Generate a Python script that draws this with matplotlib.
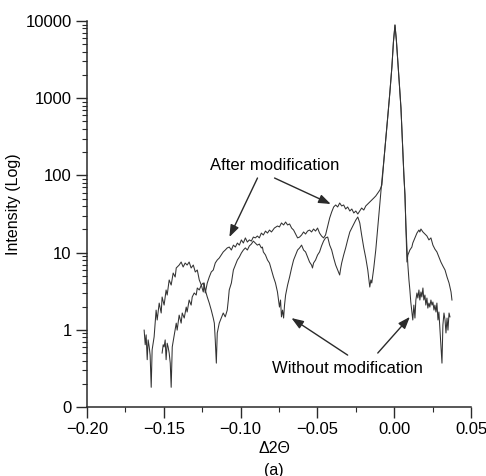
import matplotlib
matplotlib.use('Agg')
import matplotlib.pyplot as plt
from matplotlib.ticker import LogLocator, MultipleLocator, NullFormatter

plt.rcParams['font.family'] = ['Liberation Sans', 'DejaVu Sans']

# left (fringe) part of the "after modification" scan
after_left_x = [
    -0.1628, -0.1621, -0.1615, -0.1608, -0.1602, -0.1595, -0.1589, -0.1582, -0.1576, -0.1563,
    -0.1550, -0.1543, -0.1530, -0.1517, -0.1511, -0.1498, -0.1485, -0.1478, -0.1465, -0.1452,
    -0.1439, -0.1426, -0.1419, -0.1400, -0.1387, -0.1374, -0.1361, -0.1348, -0.1335, -0.1322,
    -0.1308, -0.1295, -0.1282, -0.1269, -0.1256, -0.1243, -0.1237, -0.1230, -0.1217, -0.1204,
    -0.1191, -0.1178, -0.1165, -0.1152, -0.1139, -0.1126, -0.1113, -0.1100, -0.1087, -0.1074,
    -0.1060, -0.1047, -0.1034, -0.1021, -0.1008, -0.0995, -0.0982, -0.0969, -0.0956, -0.0943,
    -0.0930, -0.0917, -0.0904, -0.0891, -0.0878, -0.0865, -0.0852, -0.0838, -0.0825, -0.0812,
    -0.0799, -0.0780, -0.0760, -0.0747, -0.0734, -0.0720, -0.0707, -0.0694, -0.0681, -0.0668,
    -0.0655, -0.0642, -0.0629, -0.0616, -0.0603, -0.0590, -0.0577, -0.0564, -0.0551, -0.0538,
    -0.0525, -0.0512, -0.0499, -0.0486, -0.0473, -0.0460, -0.0447, -0.0433, -0.0420, -0.0407,
    -0.0394, -0.0381, -0.0368, -0.0355, -0.0342, -0.0329, -0.0316, -0.0303, -0.0289, -0.0276,
    -0.0263, -0.0250, -0.0237, -0.0224, -0.0212, -0.0198, -0.0185, -0.0172, -0.0159, -0.0146,
    -0.0133, -0.0120, -0.0106, -0.0093, -0.0080,
]
after_left_y = [
    0.99, 0.64, 0.86, 0.41, 0.74, 0.60, 0.47, 0.18, 0.55, 0.81,
    1.80, 1.34, 2.22, 1.65, 2.66, 2.09, 3.28, 2.82, 4.42, 3.80,
    5.44, 4.83, 6.32, 6.90, 7.55, 6.51, 7.33, 6.90, 7.55, 6.32,
    6.90, 5.61, 5.95, 4.42, 3.80, 3.09, 4.04, 3.00, 4.04, 4.83,
    5.61, 5.95, 7.33, 8.02, 8.51, 9.31, 10.2, 10.8, 11.5, 11.8,
    10.8, 12.5, 11.8, 13.3, 12.5, 14.6, 13.3, 15.5, 13.7, 14.6,
    14.1, 15.9, 15.5, 16.4, 15.5, 17.9, 16.9, 19.0, 17.9, 19.6,
    18.5, 20.8, 22.1, 21.5, 24.2, 22.8, 24.9, 22.8, 23.5, 20.8,
    19.6, 17.4, 15.5, 15.9, 16.9, 18.5, 17.4, 19.0, 19.6, 18.5,
    20.2, 19.0, 20.8, 17.9, 16.4, 15.5, 16.9, 22.1, 28.1, 33.6,
    39.0, 41.4, 39.0, 43.9, 40.2, 41.4, 36.7, 39.0, 34.6, 36.7,
    32.6, 34.6, 31.6, 34.6, 37.8, 35.6, 40.2, 42.6, 45.2, 48.0,
    50.9, 54.1, 59.2, 64.7, 75.1,
]

# substrate peak, shared by both scans
peak_x = [-0.0067, -0.0054, -0.0041, -0.0028, -0.0015, -0.0005, 0.0005, 0.0014,
          0.0024, 0.0034, 0.0044, 0.0053, 0.0063, 0.0070, 0.0076]
peak_y = [158, 305, 605, 1200, 2540, 5350, 8870, 5680,
          2940, 1480, 746, 288, 101, 55.7, 22.8]

after_right_x = [0.0083, 0.0089, 0.0102, 0.0115, 0.0121, 0.0135, 0.0148, 0.0161, 0.0167, 0.0174,
                 0.0187, 0.0200, 0.0213, 0.0226, 0.0239, 0.0252, 0.0265, 0.0278, 0.0291, 0.0304,
                 0.0317, 0.0331, 0.0344, 0.0357, 0.0370, 0.0376]
after_right_y = [7.55, 9.31, 10.8, 11.8, 13.3, 15.5, 17.9, 19.6, 18.5, 20.2,
                 18.5, 17.4, 16.4, 14.6, 15.5, 12.5, 11.1, 10.2, 8.77, 7.55,
                 6.70, 5.95, 4.83, 4.04, 3.09, 2.43]

# "without modification" scan
without_left_x = [
    -0.1511, -0.1504, -0.1498, -0.1491, -0.1485, -0.1478, -0.1472, -0.1465, -0.1458, -0.1452,
    -0.1445, -0.1432, -0.1419, -0.1413, -0.1400, -0.1387, -0.1380, -0.1367, -0.1354, -0.1348,
    -0.1335, -0.1322, -0.1315, -0.1302, -0.1289, -0.1282, -0.1269, -0.1256, -0.1243, -0.1230,
    -0.1217, -0.1204, -0.1191, -0.1178, -0.1171, -0.1165, -0.1158, -0.1152, -0.1139, -0.1126,
    -0.1113, -0.1100, -0.1087, -0.1080, -0.1074, -0.1060, -0.1047, -0.1034, -0.1021, -0.1008,
    -0.0995, -0.0982, -0.0969, -0.0956, -0.0943, -0.0930, -0.0917, -0.0904, -0.0891, -0.0878,
    -0.0865, -0.0858, -0.0852, -0.0838, -0.0825, -0.0812, -0.0799, -0.0786, -0.0773, -0.0760,
    -0.0747, -0.0740, -0.0734, -0.0727, -0.0720, -0.0714, -0.0707, -0.0694, -0.0681, -0.0668,
    -0.0655, -0.0642, -0.0629, -0.0616, -0.0603, -0.0590, -0.0577, -0.0564, -0.0551, -0.0538,
    -0.0532, -0.0525, -0.0512, -0.0499, -0.0486, -0.0473, -0.0460, -0.0447, -0.0433, -0.0420,
    -0.0407, -0.0394, -0.0381, -0.0368, -0.0355, -0.0348, -0.0342, -0.0329, -0.0316, -0.0303,
    -0.0289, -0.0276, -0.0263, -0.0250, -0.0237, -0.0224, -0.0212, -0.0198, -0.0185, -0.0172,
    -0.0159, -0.0152, -0.0146, -0.0133, -0.0120, -0.0106, -0.0093, -0.0080,
]
without_left_y = [
    0.50, 0.64, 0.60, 0.74, 0.41, 0.67, 0.60, 0.50, 0.37, 0.18,
    0.60, 0.86, 1.22, 0.99, 1.55, 1.22, 1.65, 1.42, 1.97, 1.70,
    2.43, 2.09, 2.66, 3.00, 2.82, 3.48, 3.28, 3.80, 4.04, 3.28,
    2.66, 2.22, 1.80, 1.42, 1.22, 0.74, 0.37, 0.91, 1.22, 1.42,
    1.65, 1.47, 1.80, 2.43, 3.28, 4.04, 5.95, 6.90, 8.02, 8.77,
    9.88, 10.8, 11.5, 10.8, 12.2, 12.9, 14.1, 13.3, 12.5, 12.9,
    11.5, 11.8, 10.2, 9.31, 8.02, 7.33, 5.95, 4.83, 4.04, 3.09,
    1.97, 2.43, 1.47, 1.80, 1.42, 2.09, 2.82, 3.80, 4.83, 6.32,
    8.02, 9.31, 10.8, 11.5, 12.5, 10.8, 10.2, 8.77, 7.55, 6.90,
    6.32, 7.33, 8.02, 9.31, 10.2, 12.2, 14.1, 15.5, 15.9, 12.5,
    10.8, 8.51, 6.90, 5.95, 5.13, 6.32, 7.33, 9.31, 11.5, 14.6,
    18.5, 20.8, 23.5, 26.4, 28.9, 24.2, 16.9, 11.5, 8.51, 5.95,
    3.58, 4.42, 4.04, 6.32, 10.8, 22.8, 43.9, 87.2,
]
without_right_x = [0.0083, 0.0089, 0.0096, 0.0102, 0.0108, 0.0115, 0.0121, 0.0128, 0.0135, 0.0141,
                   0.0148, 0.0154, 0.0161, 0.0167, 0.0174, 0.0180, 0.0187, 0.0193, 0.0200, 0.0206,
                   0.0213, 0.0219, 0.0226, 0.0232, 0.0239, 0.0246, 0.0252, 0.0259, 0.0265, 0.0272,
                   0.0278, 0.0285, 0.0291, 0.0298, 0.0304, 0.0311, 0.0317, 0.0324, 0.0331, 0.0337,
                   0.0344, 0.0350, 0.0357, 0.0363]
without_right_y = [11.5, 6.90, 4.42, 3.28, 2.29, 1.70, 1.34, 2.09, 1.42, 2.43,
                   3.00, 2.58, 3.28, 2.43, 3.09, 2.66, 3.48, 2.43, 2.82, 2.09,
                   2.58, 1.91, 2.22, 1.97, 2.43, 2.09, 2.29, 1.80, 2.09, 1.70,
                   2.22, 1.34, 1.70, 0.99, 0.64, 0.37, 1.15, 1.65, 1.34, 0.91,
                   1.42, 0.99, 1.65, 1.47]

xtick_vals = [-0.20, -0.15, -0.10, -0.05, 0.00, 0.05]
xtick_labels = ['\u22120.20', '\u22120.15', '\u22120.10', '\u22120.05', '0.00', '0.05']
ytick_vals = [0.1, 1, 10, 100, 1000, 10000]
ytick_labels = ['0', '1', '10', '100', '1000', '10000']

after_x = after_left_x + peak_x + after_right_x
after_y = after_left_y + peak_y + after_right_y
without_x = without_left_x + peak_x + without_right_x
without_y = without_left_y + peak_y + without_right_y

fig = plt.figure(figsize=(4.86, 4.76), dpi=100)
ax = fig.add_axes([87 / 486, 1 - 407 / 476, 384 / 486, 386 / 476])

ink = '#2a2a2a'
ax.plot(without_x, without_y, color='#333333', lw=0.75)
ax.plot(after_x, after_y, color='#333333', lw=0.75)

ax.set_yscale('log')
ax.set_xlim(-0.20, 0.05)
ax.set_ylim(0.1, 10000)

ax.set_xticks(xtick_vals, xtick_labels)
ax.xaxis.set_minor_locator(MultipleLocator(0.025))
ax.set_yticks(ytick_vals, ytick_labels)
ax.yaxis.set_minor_locator(LogLocator(base=10, subs=range(2, 10)))
ax.yaxis.set_minor_formatter(NullFormatter())

for s in ['top', 'right']:
    ax.spines[s].set_visible(False)
for s in ['left', 'bottom']:
    ax.spines[s].set_linewidth(1.1)
    ax.spines[s].set_color(ink)

ax.tick_params(which='major', length=8, width=1, color=ink, labelsize=12, pad=3)
ax.tick_params(which='minor', length=3.5, width=0.8, color=ink)

ax.set_ylabel('Intensity (Log)', fontsize=11.5)
ax.yaxis.set_label_coords(-0.172, 0.526)
ax.set_xlabel('\u03942\u0398', fontsize=11.5)
ax.xaxis.set_label_coords(0.487, -0.087)
fig.text(274 / 486, 1 - 470 / 476, '(a)', fontsize=11.5, ha='center', va='center')

# annotations
ax.text(-0.0780, 136, 'After modification', fontsize=12, ha='center', va='center')
ax.text(-0.0302, 0.32, 'Without modification', fontsize=12, ha='center', va='center')

arrow = dict(arrowstyle='-|>,head_length=0.6,head_width=0.22', color=ink, lw=1.0,
             shrinkA=0, shrinkB=0, mutation_scale=12)
ax.annotate('', xy=(-0.1073, 15.9), xytext=(-0.0890, 92.5), arrowprops=arrow)
ax.annotate('', xy=(-0.0413, 42.6), xytext=(-0.0779, 92.5), arrowprops=arrow)
ax.annotate('', xy=(-0.0669, 1.42), xytext=(-0.0303, 0.47), arrowprops=arrow)
ax.annotate('', xy=(0.0102, 1.47), xytext=(-0.0107, 0.50), arrowprops=arrow)

fig.savefig('out.png', dpi=100)
